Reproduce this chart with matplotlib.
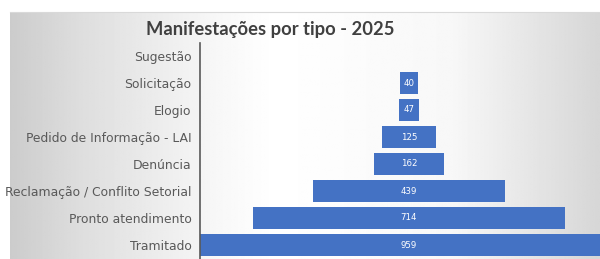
import matplotlib
matplotlib.use("Agg")
import matplotlib.pyplot as plt
import numpy as np

categories = ["Sugestão", "Solicitação", "Elogio", "Pedido de Informação - LAI",
              "Denúncia", "Reclamação / Conflito Setorial", "Pronto atendimento", "Tramitado"]
values = [0, 40, 47, 125, 162, 439, 714, 959]
title = "Manifestações por tipo - 2025"

W, H = 600, 259
fig = plt.figure(figsize=(W / 100, H / 100), dpi=100)
fig.patch.set_facecolor("white")

# background gradient of the chart area
bg = fig.add_axes([10 / W, 0, 590 / W, (H - 12) / H], zorder=0)
xs = np.linspace(0, 1, 400)
g = np.interp(xs, [0, 0.12, 0.35, 0.45, 0.75, 1.0], [0.80, 0.87, 0.97, 1.0, 0.97, 0.84])
img = np.tile(g, (20, 1))
bg.imshow(img, cmap="gray", vmin=0, vmax=1, aspect="auto", extent=[0, 1, 0, 1])
bg.set_axis_off()
fig.add_artist(plt.Line2D([10 / W, 1], [(H - 12) / H] * 2, color="#d9d9d9", lw=0.8))

ax = fig.add_axes([200 / W, 0.5 / H, 418 / W, 216 / H], zorder=1)
ax.patch.set_alpha(0)
y = np.arange(len(categories))
vals = np.array(values, dtype=float)
ax.barh(y, vals, left=-vals / 2, height=0.85, color="#4472C4")
for yi, v in zip(y, values):
    if v > 0:
        ax.text(0, yi, str(v), ha="center", va="center", color="white",
                fontsize=6.2, family="DejaVu Sans")
ax.set_xlim(-479.5, 479.5)
ax.set_ylim(len(categories) - 0.5, -0.5)
ax.set_yticks(y)
ax.set_yticklabels(categories, fontsize=8.9, color="#595959", family="DejaVu Sans")
ax.tick_params(axis="y", length=0, pad=6)
ax.set_xticks([])
for s in ["top", "right", "bottom"]:
    ax.spines[s].set_visible(False)
ax.spines["left"].set_color("#595959")
ax.spines["left"].set_linewidth(1.2)

fig.text(270 / W, 1 - 29 / H, title, ha="center", va="center", fontsize=13.2,
         fontweight="bold", color="#404040", family="Lato")

fig.savefig("out.png", dpi=100)
